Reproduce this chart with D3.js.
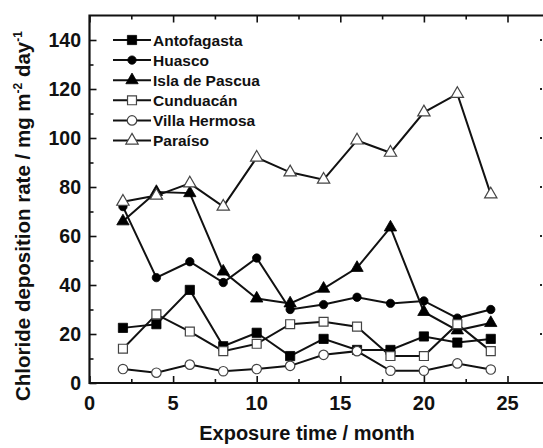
<!DOCTYPE html>
<html>
<head>
<meta charset="utf-8">
<script src="https://cdn.jsdelivr.net/npm/d3@7"></script>
<style>
  html, body { margin: 0; padding: 0; background: #fff; }
  svg { display: block; }
  text { font-family: "Liberation Sans", Arial, sans-serif; font-weight: bold; fill: #111; }
</style>
</head>
<body>
<svg id="chart" width="543" height="448"></svg>
<script>
// Exposure months
const months = [2, 4, 6, 8, 10, 12, 14, 16, 18, 20, 22, 24];

// Chloride deposition rate (mg m^-2 day^-1) per site
const antofagasta  = [22.5, 24, 38, 15, 20.5, 11, 18, 13.5, 13.5, 19, 16.5, 18];
const huasco       = [72, 43, 49.5, 41, 51, 30, 32, 35, 32.5, 33.5, 26.5, 30];
const islaDePascua = [66, 78, 77.5, 45.5, 34.5, 32.5, 38.5, 47, 63.5, 29, 21.5, 24.5];
const cunduacan    = [14, 28, 21, 13, 16, 24, 25, 23, 11, 11, 24, 13];
const villaHermosa = [5.7, 4.2, 7.5, 4.8, 5.7, 7, 11.5, 13, 5, 5, 8, 5.5];
const paraiso      = [74, 76.5, 81.5, 72, 92, 86, 83, 99, 94, 110.5, 118, 77];

const seriesNames = ["Antofagasta", "Huasco", "Isla de Pascua", "Cunduacán", "Villa Hermosa", "Paraíso"];
const seriesValues = [antofagasta, huasco, islaDePascua, cunduacan, villaHermosa, paraiso];

// Tick values
const xTicksMajor = [0, 5, 10, 15, 20, 25];
const yTicksMajor = [0, 20, 40, 60, 80, 100, 120, 140];

// Marker shape for each series
const markerStyles = [
  { shape: "square",   filled: true  },
  { shape: "circle",   filled: true  },
  { shape: "triangle", filled: true  },
  { shape: "square",   filled: false },
  { shape: "circle",   filled: false },
  { shape: "triangle", filled: false }
];

const svg = d3.select("#chart");

const x = d3.scaleLinear().domain([0, 27.5]).range([89.5, 549.3]);
const y = d3.scaleLinear().domain([0, 150]).range([383, 15.5]);

const symbolFor = s => {
  if (s.shape === "square") return d3.symbol(d3.symbolSquare, s.filled ? 85 : 80)();
  if (s.shape === "circle") return d3.symbol(d3.symbolCircle, s.filled ? 55 : 70)();
  return d3.symbol(d3.symbolTriangle, 66)();
};

const drawMarker = (g, s, cx, cy) => {
  g.append("path")
    .attr("d", symbolFor(s))
    .attr("transform", `translate(${cx},${cy})`)
    .attr("fill", s.filled ? "#000" : "#fff")
    .attr("stroke", s.filled ? "#000" : "#444")
    .attr("stroke-width", s.filled ? 0.8 : 1.2);
};

// Series lines and markers
const line = d3.line().x(d => x(d[0])).y(d => y(d[1]));
const plot = svg.append("g");
seriesValues.forEach((vals, i) => {
  const pts = months.map((m, j) => [m, vals[j]]);
  const g = plot.append("g");
  g.append("path")
    .attr("d", line(pts))
    .attr("fill", "none")
    .attr("stroke", "#111")
    .attr("stroke-width", 2);
  pts.forEach(p => drawMarker(g, markerStyles[i], x(p[0]), y(p[1])));
});

// Axes (ticks point inward)
const axisColor = "#111";
const bottomAxis = d3.axisBottom(x).tickValues(d3.range(0, 27.5, 2.5))
  .tickSize(-4).tickFormat("");
svg.append("g").attr("transform", `translate(0,${y(0)})`).call(bottomAxis)
  .call(g => {
    g.select(".domain").remove();
    g.selectAll(".tick line").attr("stroke", axisColor).attr("stroke-width", 1.6)
      .attr("y2", d => (d % 5 === 0 ? -7 : -4));
  });

const topAxis = d3.axisTop(x).tickValues(d3.range(0, 27.5, 2.5)).tickSize(-4).tickFormat("");
svg.append("g").attr("transform", `translate(0,${y(150)})`).call(topAxis)
  .call(g => {
    g.select(".domain").remove();
    g.selectAll(".tick line").attr("stroke", axisColor).attr("stroke-width", 1.6)
      .attr("y2", d => (d % 5 === 0 ? 7 : 4));
  });

const leftAxis = d3.axisLeft(y).tickValues(d3.range(0, 150, 10)).tickSize(-4).tickFormat("");
svg.append("g").attr("transform", `translate(${x(0)},0)`).call(leftAxis)
  .call(g => {
    g.select(".domain").remove();
    g.selectAll(".tick line").attr("stroke", axisColor).attr("stroke-width", 1.6)
      .attr("x2", d => (d % 20 === 0 ? 7 : 4));
  });

// Frame
svg.append("path")
  .attr("d", `M${x(27.5)},${y(150)}H${x(0)}V${y(0)}H${x(27.5)}`)
  .attr("fill", "none").attr("stroke", axisColor).attr("stroke-width", 2.2);

// Tick labels
svg.append("g").selectAll("text").data(xTicksMajor).join("text")
  .attr("x", d => x(d)).attr("y", 410)
  .attr("text-anchor", "middle").attr("font-size", 20)
  .text(d => d);

svg.append("g").selectAll("text").data(yTicksMajor).join("text")
  .attr("x", 81).attr("y", d => y(d) + 7)
  .attr("text-anchor", "end").attr("font-size", 19.5)
  .text(d => d);

// Marks along the right edge at the major y positions
svg.append("g").selectAll("rect").data(yTicksMajor.filter(d => d > 0)).join("rect")
  .attr("x", 540).attr("y", d => y(d) - 1).attr("width", 2).attr("height", 2)
  .attr("fill", "#222");

// Axis titles
svg.append("text")
  .attr("x", 307).attr("y", 440)
  .attr("text-anchor", "middle").attr("font-size", 20)
  .text("Exposure time / month");

const yTitle = svg.append("text")
  .attr("transform", "translate(30,216) rotate(-90)")
  .attr("text-anchor", "middle").attr("font-size", 20.5);
yTitle.append("tspan").text("Chloride deposition rate / mg m");
yTitle.append("tspan").attr("dy", -8).attr("font-size", 12).text("-2");
yTitle.append("tspan").attr("dy", 8).text(" day");
yTitle.append("tspan").attr("dy", -8).attr("font-size", 12).text("-1");

// Legend
const legend = svg.append("g");
seriesNames.forEach((name, i) => {
  const cy = 40 + i * 20.1;
  const g = legend.append("g");
  g.append("line").attr("x1", 113).attr("x2", 151).attr("y1", cy).attr("y2", cy)
    .attr("stroke", "#111").attr("stroke-width", 2);
  drawMarker(g, markerStyles[i], 132, cy);
  g.append("text").attr("x", 153).attr("y", cy + 5.5).attr("font-size", 15.5).text(name);
});
</script>
</body>
</html>
